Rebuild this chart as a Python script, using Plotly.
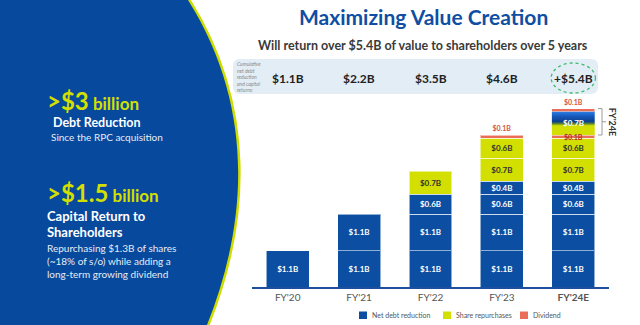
import plotly.graph_objects as go

# ---- data -------------------------------------------------------------
years = ["FY'20", "FY'21", "FY'22", "FY'23", "FY'24E"]
year_ticks = ["FY'20", "FY'21", "FY'22", "FY'23", "<b>FY'24E</b>"]

# stacked layers, bottom to top (None = no segment that year)
debt_1 = [1.1, 1.1, 1.1, 1.1, 1.1]
debt_2 = [None, 1.1, 1.1, 1.1, 1.1]
debt_3 = [None, None, 0.6, 0.6, 0.6]
debt_4 = [None, None, None, 0.4, 0.4]
buyback_1 = [None, None, 0.7, 0.7, 0.7]
buyback_2 = [None, None, None, 0.6, 0.6]
dividend_1 = [None, None, None, 0.1, 0.1]
fy24_mix = [None, None, None, None, 0.7]   # FY'24E: debt paydown and/or buybacks
dividend_2 = [None, None, None, None, 0.1]

legend_names = ["Net debt reduction", "Share repurchases", "Dividend"]
note_lines = ["Cumulative", "net debt", "reduction", "and capital", "returns:"]

# ---- styling ----------------------------------------------------------
BLUE = "#0b4ea2"
PANEL = "#07499d"
LIME = "#d2df00"
SALMON = "#ea6e57"
FONT = "Lato"
W, H = 640, 325
BAR_W = 0.6


def px(x):
    return x / W


def py(y):
    return 1 - y / H


def val(v):
    return f"${v:.1f}B"


layers = [
    (debt_1, BLUE),
    (debt_2, BLUE),
    (debt_3, BLUE),
    (debt_4, BLUE),
    (buyback_1, LIME),
    (buyback_2, LIME),
    (dividend_1, SALMON),
    (fy24_mix, None),
    (dividend_2, SALMON),
]

x_idx = list(range(len(years)))
fig = go.Figure()

# base of the FY'24E mixed segment = everything stacked below it
mix_i = len(years) - 1
mix_pos = [l[0] for l in layers].index(fy24_mix)
mix_base = sum((l[0][mix_i] or 0) for l in layers[:mix_pos])
mix_top = mix_base + fy24_mix[mix_i]

# labels that sit on/next to the gradient segment go in as annotations
over_labels = []

for k, (vals, color) in enumerate(layers):
    texts, tpos, tcol = [], [], []
    for i, v in enumerate(vals):
        base = sum((l[0][i] or 0) for l in layers[:k])
        on_top = all(l[0][i] is None for l in layers[k + 1:])
        if v is None:
            texts.append(""); tpos.append("none"); tcol.append("white")
        elif color is None or (color == SALMON and i == mix_i and not on_top):
            texts.append(""); tpos.append("none"); tcol.append("white")
            over_labels.append((i, base + v / 2, val(v),
                                "white" if color is None else "#a8301c",
                                8 if color is None else 7))
        elif color == SALMON:
            texts.append(val(v)); tpos.append("outside"); tcol.append("#d4553c")
        else:
            texts.append(val(v)); tpos.append("inside")
            tcol.append("#333333" if color == LIME else "white")
    size = 7 if color == SALMON else 8
    textfont = dict(family=FONT, size=size, color=tcol, weight="bold")
    marker = (dict(color=color, line=dict(color="rgba(255,255,255,0.55)", width=1))
              if color else dict(color="rgba(0,0,0,0)", line=dict(width=0)))
    fig.add_trace(go.Bar(
        x=x_idx, y=vals, width=BAR_W, showlegend=False, marker=marker,
        text=texts, textposition=tpos, insidetextanchor="middle", constraintext="none",
        textfont=textfont, outsidetextfont=textfont, hoverinfo="skip",
    ))

# gradient fill for the FY'24E segment
fig.add_trace(go.Scatter(
    x=[mix_i - BAR_W / 2, mix_i + BAR_W / 2, mix_i + BAR_W / 2, mix_i - BAR_W / 2, mix_i - BAR_W / 2],
    y=[mix_base, mix_base, mix_top, mix_top, mix_base],
    mode="none", fill="toself",
    fillgradient=dict(
        type="vertical", start=mix_base, stop=mix_top,
        colorscale=[[0, LIME], [0.40, LIME], [0.50, "#4f7a3a"], [0.58, "#0c3f8c"],
                    [0.80, "#1557b8"], [1, "#2a7ce3"]],
    ),
    showlegend=False, hoverinfo="skip",
))

totals = [sum((l[0][i] or 0) for l in layers) for i in x_idx]


def P(x, y):
    return f"{px(x)},{py(y)}"


# left panel: curved right edge with a lime rim
edge = f"M {P(188, 0)} C {P(254, 105)} {P(249, 220)} {P(207, 325)}"
shapes = [
    dict(type="path", xref="paper", yref="paper", layer="below",
         path=edge, line=dict(color="#cfdc00", width=5)),
    dict(type="path", xref="paper", yref="paper", layer="below",
         path=f"M {P(-5, -5)} L {P(188, -5)} L {P(188, 0)} "
              f"C {P(254, 105)} {P(249, 220)} {P(207, 325)} L {P(207, 330)} L {P(-5, 330)} Z",
         fillcolor=PANEL, line=dict(width=0)),
]

# rounded light-blue band behind cumulative totals
bx0, bx1, by0, by1, r = 233, 598, 59, 94, 7
rx, ry = r / W, r / H
X0, X1, Y0, Y1 = px(bx0), px(bx1), py(by1), py(by0)
shapes.append(dict(
    type="path", xref="paper", yref="paper", layer="below",
    path=(f"M {X0+rx},{Y0} L {X1-rx},{Y0} Q {X1},{Y0} {X1},{Y0+ry} "
          f"L {X1},{Y1-ry} Q {X1},{Y1} {X1-rx},{Y1} L {X0+rx},{Y1} "
          f"Q {X0},{Y1} {X0},{Y1-ry} L {X0},{Y0+ry} Q {X0},{Y0} {X0+rx},{Y0} Z"),
    fillcolor="#e2edf6", line=dict(width=0)))

# dashed ring around the five-year total
shapes.append(dict(type="circle", xref="x", yref="paper",
                   x0=mix_i - 0.31, x1=mix_i + 0.31, y0=py(93), y1=py(63),
                   line=dict(color="#3dbb6c", width=1.3, dash="dot")))

# FY'24E bracket
prev_total = totals[-2]
mid_24 = (totals[-1] + prev_total) / 2
bxa, bxb, bxc = px(598), px(602), px(606)
shapes.append(dict(type="path", xref="paper", yref="y",
                   path=f"M {bxa},{totals[-1]} L {bxb},{totals[-1]} L {bxb},{prev_total} L {bxa},{prev_total}",
                   line=dict(color="#9a9a9a", width=1)))
shapes.append(dict(type="line", xref="paper", yref="y",
                   x0=bxb, x1=bxc, y0=mid_24, y1=mid_24,
                   line=dict(color="#9a9a9a", width=1)))

ann = []


def note(x, y, text, size, color, xref="paper", yref="paper", xanchor="center", **kw):
    ann.append(dict(x=x, y=y, xref=xref, yref=yref, xanchor=xanchor, yanchor="middle",
                    showarrow=False, text=text,
                    font=dict(family=FONT, size=size, color=color), **kw))


# segment labels over the gradient area
for i, yv, txt, col, size in over_labels:
    note(i, yv, f"<b>{txt}</b>", size, col, xref="x", yref="y")

# cumulative totals row
for i, t in enumerate(totals):
    label = ("+" if i == len(totals) - 1 else "") + val(t)
    note(i, py(78), f"<b>{label}</b>", 12, "#222222", xref="x")
note(px(235), py(76.5), "<br>".join(f"<i>{t}</i>" for t in note_lines), 5, "#8a8a8a",
     xanchor="left", align="left")

# FY'24E side label
note(px(612), mid_24, "<b>FY'24E</b>", 9, "#333333", yref="y", textangle=90)

# headings
note(px(423), py(17), "<b>Maximizing Value Creation</b>", 21, "#0f4ea3")
note(px(423), py(46), "<b>Will return over $5.4B of value to shareholders over 5 years</b>",
     12.5, "#3a3a3a")


# left panel
def left(x, y, text, size, color="white"):
    note(px(x), py(y), text, size, color, xanchor="left", align="left")


left(45, 100, '<b><span style="font-size:24px">&gt;$3</span> billion</b>', 17, LIME)
left(51, 122, "<b>Debt Reduction</b>", 12.5)
left(49, 137, "Since the RPC acquisition", 10, "#e6ecf5")
left(45, 193, '<b><span style="font-size:24px">&gt;$1.5</span> billion</b>', 17, LIME)
left(45, 216, "<b>Capital Return to</b>", 13)
left(45, 232, "<b>Shareholders</b>", 13)
left(45, 248, "Repurchasing $1.3B of shares", 10, "#e6ecf5")
left(45, 261, "(~18% of s/o) while adding a", 10, "#e6ecf5")
left(45, 274, "long-term growing dividend", 10, "#e6ecf5")

# legend: swatch + label per series
for (lx, name, color) in zip([359, 443, 520], legend_names, [BLUE, LIME, SALMON]):
    shapes.append(dict(type="rect", xref="paper", yref="paper",
                       x0=px(lx), x1=px(lx + 8), y0=py(319), y1=py(311.5),
                       fillcolor=color, line=dict(width=0)))
    note(px(lx + 11), py(315), name, 7, "#555555", xanchor="left")

fig.update_layout(
    width=W, height=H, margin=dict(l=0, r=0, t=0, b=0),
    paper_bgcolor="white", plot_bgcolor="rgba(0,0,0,0)",
    barmode="stack", font=dict(family=FONT), showlegend=False,
    shapes=shapes, annotations=ann,
    xaxis=dict(domain=[px(252), px(609)], range=[-0.5, 4.5],
               tickvals=x_idx, ticktext=year_ticks, showgrid=False, zeroline=False,
               showline=True, linecolor="#1d4f9e", linewidth=2, ticks="",
               tickfont=dict(family=FONT, size=10, color="#555555")),
    yaxis=dict(domain=[py(287), py(97)], range=[0, 5.75], visible=False),
)

fig.write_html("out.html")
